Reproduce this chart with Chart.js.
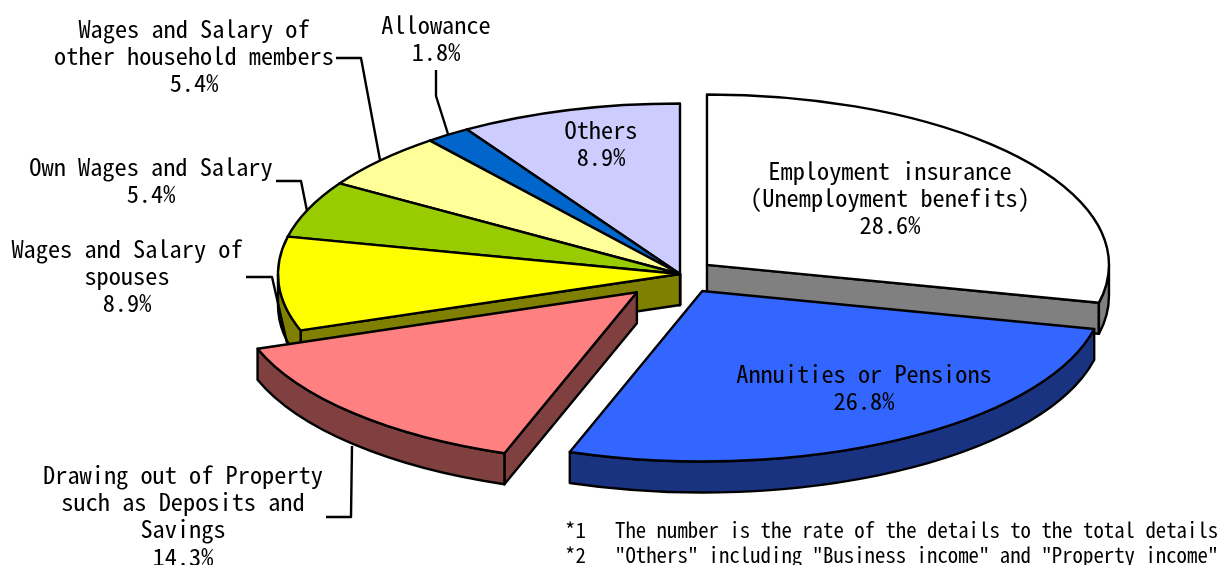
<!DOCTYPE html>
<html><head><meta charset="utf-8">
<style>html,body{margin:0;padding:0;background:#fff}canvas{display:block}</style>
<script src="https://cdn.jsdelivr.net/npm/chart.js@4"></script>
</head><body><canvas id="c" width="1219" height="565"></canvas>
<script>
const categories = ["Employment insurance (Unemployment benefits)","Annuities or Pensions","Drawing out of Property such as Deposits and Savings","Wages and Salary of spouses","Own Wages and Salary","Wages and Salary of other household members","Allowance","Others"];
const shares = [28.6,26.8,14.3,8.9,5.4,5.4,1.8,8.9];
const labelLines = [["Employment insurance","(Unemployment benefits)"],["Annuities or Pensions"],["Drawing out of Property","such as Deposits and","Savings"],["Wages and Salary of","spouses"],["Own Wages and Salary"],["Wages and Salary of","other household members"],["Allowance"],["Others"]];
const faceColors = ["#ffffff","#3366ff","#ff8080","#ffff00","#99cc00","#ffff99","#0066cc","#ccccff"];
const wallColors = ["#808080","#1a3380","#804040","#808000","#4d6600","#808050","#003366","#666680"];
const footnotes = [["*1","The number is the rate of the details to the total details"],["*2","\"Others\" including \"Business income\" and \"Property income\""]];

// layout (not data)
const SQUASH = 0.424, DEPTH = 31, LW = 2.4;
const explode = [34.5,46,61,0,0,0,0,0];
const drawGroups = [[0],[7,6,5,4,3],[2],[1]];
const labelPos = [[890,180],[864,383],[183,484],[127,258],[151,176],[194,38],[436,34],[601,139]];
const leaders = {
  5:[[336,58],[361,58],[380,160]],
  6:[[436,70],[436,96],[448,134]],
  4:[[276,181],[301,181],[307,211]],
  3:[[246,277],[272,277],[287,343]],
  2:[[326,517],[351,517],[352,446]]
};
const FONT = '"Noto Sans Mono CJK JP","DejaVu Sans Mono","Liberation Mono",monospace';

function monoText(ctx,str,x,y,size,adv,align){
  ctx.save();
  ctx.font = size+'px '+FONT;
  ctx.fillStyle = '#000';
  ctx.textBaseline = 'alphabetic';
  ctx.textAlign = 'left';
  const sx = adv/ctx.measureText('M').width;
  const w = str.length*adv;
  const left = align==='center' ? x-w/2 : x;
  ctx.translate(left,y);
  ctx.scale(sx,1);
  ctx.fillText(str,0,0);
  ctx.restore();
}

const pie3d = {
  id:'pie3d',
  beforeDatasetDraw(chart,args){
    const ctx = chart.ctx, arcs = args.meta.data;
    const geo = arcs.map((el,i)=>{
      const p = el.getProps(['x','y','startAngle','endAngle','outerRadius'],true);
      const mid = (p.startAngle+p.endAngle)/2;
      return {cx:p.x+Math.cos(mid)*explode[i], cy:p.y+Math.sin(mid)*explode[i]*SQUASH,
              a:p.startAngle,b:p.endAngle,r:p.outerRadius,ry:p.outerRadius*SQUASH,face:faceColors[i],wall:wallColors[i]};
    });
    ctx.save();
    ctx.lineWidth = LW; ctx.lineJoin='round'; ctx.strokeStyle='#000';
    const paint = (fill)=>{ctx.fillStyle=fill;ctx.fill();ctx.stroke();};
    const radial = (g,t)=>{
      const x=g.cx+g.r*Math.cos(t), y=g.cy+g.ry*Math.sin(t);
      ctx.beginPath();ctx.moveTo(g.cx,g.cy);ctx.lineTo(x,y);ctx.lineTo(x,y+DEPTH);ctx.lineTo(g.cx,g.cy+DEPTH);ctx.closePath();paint(g.wall);
    };
    for(const group of drawGroups){
      for(const i of group){
        const g = geo[i];
        if(Math.cos(g.a)<-1e-6) radial(g,g.a);
        if(Math.cos(g.b)>1e-6) radial(g,g.b);
        const s=Math.max(g.a,0), e=Math.min(g.b,Math.PI);
        if(e>s){
          ctx.beginPath();
          ctx.ellipse(g.cx,g.cy,g.r,g.ry,0,s,e,false);
          ctx.ellipse(g.cx,g.cy+DEPTH,g.r,g.ry,0,e,s,true);
          ctx.closePath();paint(g.wall);
        }
      }
      for(const i of group){
        const g = geo[i];
        ctx.beginPath();ctx.moveTo(g.cx,g.cy);
        ctx.ellipse(g.cx,g.cy,g.r,g.ry,0,g.a,g.b,false);
        ctx.closePath();paint(g.face);
      }
      for(const i of group){
        if(!leaders[i]||i===2) continue;
        ctx.beginPath();
        leaders[i].forEach((p,k)=>k?ctx.lineTo(p[0],p[1]):ctx.moveTo(p[0],p[1]));
        ctx.stroke();
      }
      if(group[0]===7){ /* pink leader sits behind the pink wall */
        ctx.beginPath();
        leaders[2].forEach((p,k)=>k?ctx.lineTo(p[0],p[1]):ctx.moveTo(p[0],p[1]));
        ctx.stroke();
      }
    }
    ctx.restore();
    return false;
  },
  afterDraw(chart){
    const ctx = chart.ctx;
    labelLines.forEach((lines,i)=>{
      const [x,y0]=labelPos[i];
      const all = lines.concat([shares[i].toFixed(1)+'%']);
      all.forEach((t,k)=>monoText(ctx,t,x,y0+k*27.2,24,12.17,'center'));
    });
    footnotes.forEach((f,k)=>{
      monoText(ctx,f[0],565,538+k*24.5,21,10.4,'left');
      monoText(ctx,f[1],615,538+k*24.5,21,10.4,'left');
    });
  }
};

new Chart(document.getElementById('c'),{
  type:'pie',
  data:{labels:categories,datasets:[{data:shares,backgroundColor:faceColors,borderColor:'#000',borderWidth:2,radius:402}]},
  options:{
    responsive:false,animation:false,
    layout:{padding:{left:141,right:0,top:0,bottom:17}},
    plugins:{legend:{display:false},tooltip:{enabled:false},title:{display:false}}
  },
  plugins:[pie3d]
});
</script></body></html>
